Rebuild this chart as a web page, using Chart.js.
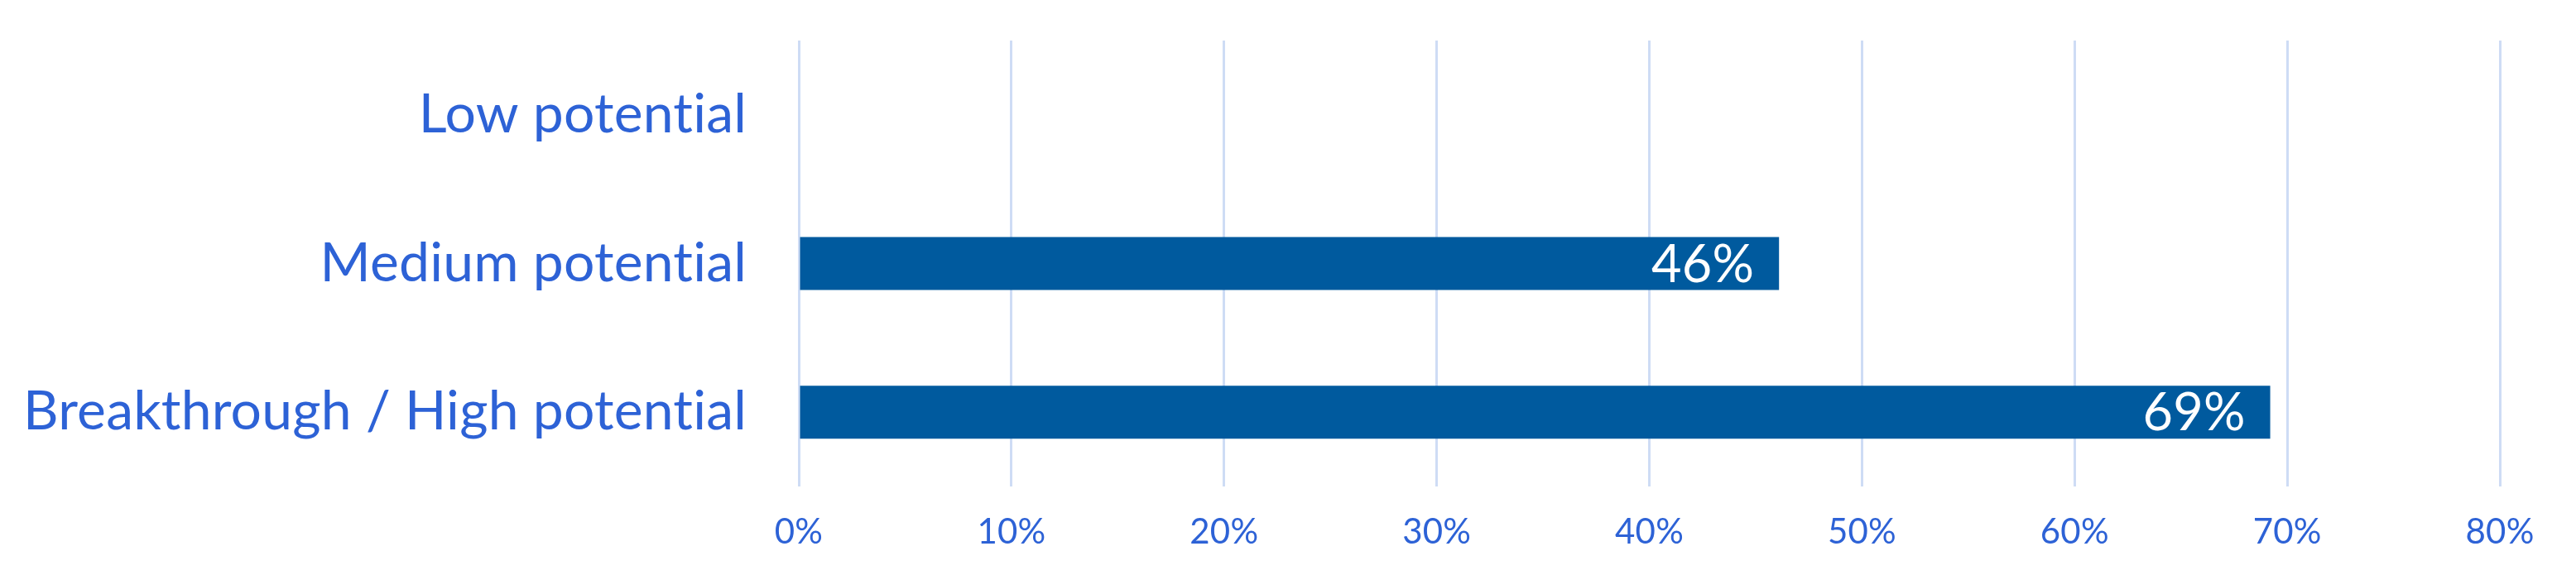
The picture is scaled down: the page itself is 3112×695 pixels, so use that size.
<!DOCTYPE html>
<html>
<head>
<meta charset="utf-8">
<script src="https://cdn.jsdelivr.net/npm/chart.js@4/dist/chart.umd.min.js"></script>
<style>
  html, body { margin: 0; padding: 0; background: #fff; }
  #wrap { width: 3112px; height: 695px; }
</style>
</head>
<body>
<div id="wrap"><canvas id="myChart" width="3112" height="695"></canvas></div>
<script>
// chart data
const categories = ["Low potential", "Medium potential", "Breakthrough / High potential"];
const shares = [0, 46.1, 69.2];
const tickValues = [0, 10, 20, 30, 40, 50, 60, 70, 80];

const labelBlue = "#2D62D6";
const barBlue = "#005A9E";
const fontFamily = "Lato, 'Noto Sans', sans-serif";

// tiny letter spacing so Lato doesn't merge "ti" into a ligature
const noLigatures = {
  id: "noLigatures",
  beforeDraw(chart) {
    chart.ctx.letterSpacing = "0.2px";
  },
};

// draws the % value inside the end of each bar
const barValueLabels = {
  id: "barValueLabels",
  afterDatasetsDraw(chart) {
    const ctx = chart.ctx;
    const meta = chart.getDatasetMeta(0);
    ctx.save();
    ctx.font = "63px " + fontFamily;
    ctx.fillStyle = "#ffffff";
    ctx.textAlign = "right";
    ctx.textBaseline = "alphabetic";
    meta.data.forEach((bar, i) => {
      const v = shares[i];
      if (!v) return;
      ctx.fillText(Math.round(v) + "%", bar.x - 30, bar.y + 22);
    });
    ctx.restore();
  },
};

const ctx = document.getElementById("myChart").getContext("2d");
new Chart(ctx, {
  type: "bar",
  data: {
    labels: categories,
    datasets: [
      {
        data: shares,
        backgroundColor: barBlue,
        borderWidth: 0,
        barPercentage: 0.356,
        categoryPercentage: 1,
      },
    ],
  },
  options: {
    indexAxis: "y",
    responsive: false,
    animation: false,
    layout: { padding: { left: 0, right: 92, top: 49, bottom: 0 } },
    plugins: {
      legend: { display: false },
      tooltip: { enabled: false },
    },
    scales: {
      x: {
        min: 0,
        max: 80,
        afterBuildTicks: (scale) => {
          scale.ticks = tickValues.map((v) => ({ value: v }));
        },
        afterFit: (scale) => {
          scale.height = 107;
          scale.paddingLeft = 0;
          scale.paddingRight = 0;
        },
        grid: { color: "#CEDCF5", lineWidth: 3, drawTicks: false },
        border: { display: false },
        ticks: {
          padding: 30,
          color: labelBlue,
          font: { family: fontFamily, size: 42 },
          callback: (v) => v + "%",
          maxRotation: 0,
        },
      },
      y: {
        afterFit: (scale) => {
          scale.width = 965;
          scale.paddingTop = 0;
          scale.paddingBottom = 0;
        },
        grid: { display: false, drawTicks: false },
        border: { display: false },
        ticks: {
          padding: 63,
          color: labelBlue,
          font: { family: fontFamily, size: 66 },
        },
      },
    },
  },
  plugins: [noLigatures, barValueLabels],
});
</script>
</body>
</html>
